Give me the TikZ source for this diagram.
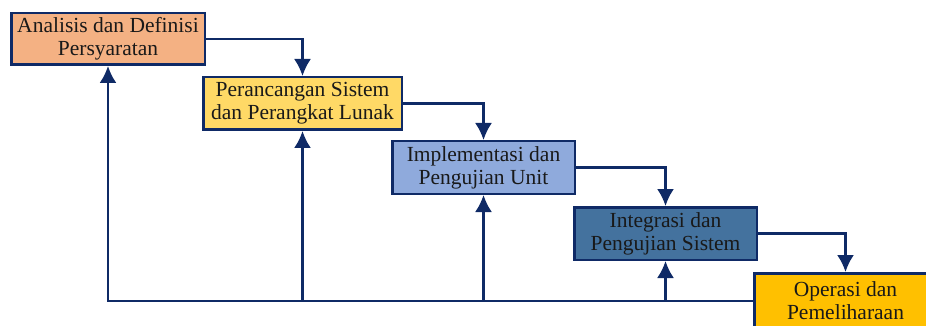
\documentclass[tikz,border=0pt]{standalone}
\usepackage{fontspec}
\setmainfont{Liberation Serif}
\usetikzlibrary{arrows.meta,positioning}
\definecolor{navy}{HTML}{0F2A66}
\definecolor{analisisfill}{HTML}{F4B183}
\definecolor{desainfill}{HTML}{FFD966}
\definecolor{implfill}{HTML}{8FAADC}
\definecolor{integrasifill}{HTML}{44729E}
\definecolor{operasifill}{HTML}{FFC000}
\begin{document}
\begin{tikzpicture}[x=1pt,y=-1pt,>={Latex[length=17pt,width=17pt]}]
        \tikzset{phase/.style= {draw=navy, line width=2.5pt, rectangle, align=center, inner sep=0pt,
                 minimum width=182.5pt, minimum height=52.5pt, text=black!90,
                 font=\fontsize{21.5}{23}\selectfont},
        flow/.style={draw=navy, line width=2.2pt, ->},
        }
        \useasboundingbox (0,0) rectangle (926,326);
        \node [phase, fill=analisisfill, minimum width=193.5pt, minimum height=51.5pt] (analisis) at (108,39) {Analisis dan Definisi\\Persyaratan};
        \node [phase, fill=desainfill, minimum width=198.5pt, below right=10pt and -4pt of analisis] (desain) {Perancangan Sistem\\dan Perangkat Lunak};
        \node [phase, fill=implfill, below right=9pt and -12pt of desain] (impl) {Implementasi dan\\Pengujian Unit};
        \node [phase, fill=integrasifill, below right=11pt and -3pt of impl] (integrasi) {Integrasi dan\\Pengujian Sistem};
        \node [phase, fill=operasifill, minimum height=55pt, below right=11pt and -5pt of integrasi] (operasi) {Operasi dan\\Pemeliharaan};
%%% paths
        \draw[flow] (analisis.east) -| (desain.north);
        \draw[flow] (desain.east) -| (impl.north);
        \draw[flow] (impl.east) -| (integrasi.north);
        \draw[flow] (integrasi.east) -| (operasi.north);
        \draw[flow] (operasi.west) -| (analisis.south);
        \draw[flow] (desain.south |- operasi.west) -- (desain.south);
        \draw[flow] (impl.south |- operasi.west) -- (impl.south);
        \draw[flow] (integrasi.south |- operasi.west) -- (integrasi.south);
    \end{tikzpicture}
\end{document}
